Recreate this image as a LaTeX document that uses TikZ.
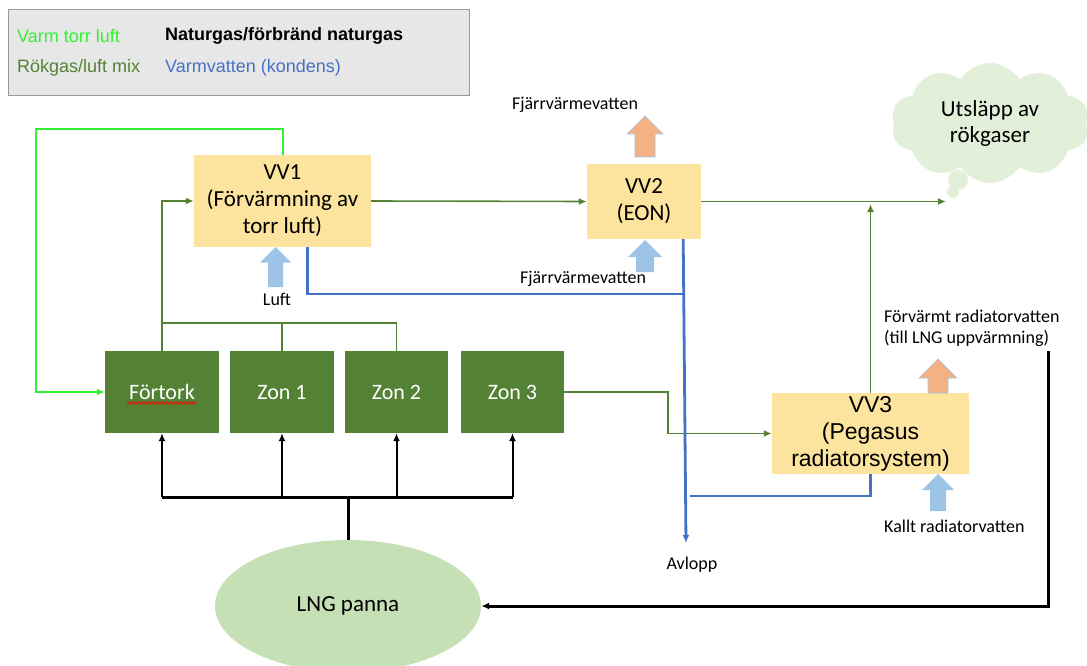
\documentclass[tikz,border=0pt]{standalone}
\usepackage{fontspec}
\setmainfont{Carlito}
\newfontfamily\arialfont{Liberation Sans}
\usetikzlibrary{calc,arrows.meta,shapes.geometric,shapes.symbols,decorations.pathmorphing}
\definecolor{ljusgron}{RGB}{51,240,51}
\definecolor{rokgron}{RGB}{84,130,53}
\definecolor{vattenbla}{RGB}{68,114,196}
\definecolor{vvgul}{RGB}{252,227,158}
\definecolor{pilorange}{RGB}{244,177,131}
\definecolor{pilbla}{RGB}{157,195,230}
\definecolor{molngron}{RGB}{226,240,217}
\definecolor{pannagron}{RGB}{197,224,180}
\definecolor{legendgra}{RGB}{231,231,231}
% block arrow pointing up: style, x, y tip, y tail, head width, shaft width
\newcommand{\blockpil}[6]{\path[#1] (#2-#6/2,#4) -- (#2-#6/2,#3+#5/2) -- (#2-#5/2,#3+#5/2) -- (#2,#3) -- (#2+#5/2,#3+#5/2) -- (#2+#6/2,#3+#5/2) -- (#2+#6/2,#4) -- cycle;}

\tikzset{
  vvbox/.style={fill=vvgul, align=center, inner sep=0pt, font=\fontsize{23}{27}\selectfont},
  zonbox/.style={fill=rokgron, text=white, minimum height=82pt, inner sep=0pt, font=\fontsize{22}{25}\selectfont},
  etikett/.style={inner sep=0pt, font=\fontsize{18}{21}\selectfont},
  legtext/.style={anchor=west, inner sep=0pt, font=\arialfont\fontsize{18}{20}\selectfont},
  pil/.style={-{Latex[length=8pt,width=7pt]}},
  varmluft/.style={draw=ljusgron, line width=2pt},
  rokgas/.style={draw=rokgron, line width=1.6pt},
  vatten/.style={draw=vattenbla, line width=2.8pt},
  naturgas/.style={draw=black, line width=3pt},
}

\begin{document}
\begin{tikzpicture}[x=1pt,y=-1pt]
  \def\busy{497}
  \def\manify{323}
  \def\varmy{129}
  \def\varmx{36}
  \useasboundingbox (0,0) rectangle (1087,666);

  %%%%% legend %%%%%
  \draw[draw=black!40, fill=legendgra] (8,9) rectangle (469,95);
  \node[legtext, text=ljusgron] (leg1) at (17,36) {Varm torr luft};
  \node[legtext, font=\arialfont\bfseries\fontsize{18}{20}\selectfont] (leg2) at (165,36) {Naturgas/förbränd naturgas};
  \node[legtext, text=rokgron] (leg3) at (17,68) {Rökgas/luft mix};
  \node[legtext, text=vattenbla] (leg4) at (165,68) {Varmvatten (kondens)};

  %%%%% boxes %%%%%
  \node[vvbox, minimum width=177pt, minimum height=92pt] (vv1) at (282.5,201) {VV1\\(Förvärmning av\\torr luft)};
  \node[vvbox, minimum width=114pt, minimum height=75pt] (vv2) at (644,201.5) {VV2\\(EON)};
  \node[vvbox, minimum width=197pt, minimum height=81pt, font=\arialfont\fontsize{23}{27}\selectfont] (vv3) at (870.5,433.5) {VV3\\(Pegasus\\radiatorsystem)};

  \node[zonbox, minimum width=114pt] (fortork) at (162,392) {Förtork};
  \node[zonbox, minimum width=104pt] (zon1) at (282,392) {Zon 1};
  \node[zonbox, minimum width=103pt] (zon2) at (396.5,392) {Zon 2};
  \node[zonbox, minimum width=103pt] (zon3) at (512.5,392) {Zon 3};
  \draw[red, line width=0.8pt, decorate, decoration={snake, amplitude=1.2pt, segment length=3.5pt}]
    ($(fortork.center)+(-35,11)$) -- ($(fortork.center)+(35,11)$);

  \node[ellipse, fill=pannagron, minimum width=266pt, minimum height=132pt, inner sep=0pt, font=\fontsize{23}{27}\selectfont] (lng) at (348,606) {LNG panna};

  \node[cloud, cloud puffs=10, cloud puff arc=115, aspect=1.6, fill=molngron, minimum width=198pt, minimum height=120pt, inner sep=0pt, align=center, font=\fontsize{23}{26}\selectfont] (moln) at (990,123) {Utsläpp av\\rökgaser};
  \fill[molngron] (958,180) circle (10) (953,192) circle (6);

  %%%%% block arrows %%%%%
  \blockpil{fill=pilorange, draw=pilbla, line width=0.6pt}{645}{116}{157}{36}{20}
  \blockpil{fill=pilbla}{645}{240}{272}{34}{18}
  \blockpil{fill=pilbla}{275.5}{247}{287}{31}{15}
  \blockpil{fill=pilorange, draw=pilbla, line width=0.6pt}{938}{359}{393}{38}{20}
  \blockpil{fill=pilbla}{938}{474}{511}{32}{16}

  %%%%% labels %%%%%
  \node[etikett] (lbl1) at (575,105) {Fjärrvärmevatten};
  \node[etikett] (lbl2) at (583,279) {Fjärrvärmevatten};
  \node[etikett] (lbl3) at (277,299) {Luft};
  \node[etikett, anchor=north west, align=left] (lbl4) at (884,310) {Förvärmt radiatorvatten\\(till LNG uppvärmning)};
  \node[etikett, anchor=west] (lbl5) at (884,526) {Kallt radiatorvatten};
  \node[etikett] (lbl6) at (692,565) {Avlopp};

  %%%%% varm torr luft %%%%%
  \draw[varmluft, pil] (vv1.north) |- (\varmx,\varmy) |- (fortork.west);

  %%%%% rokgas %%%%%
  \draw[rokgas] (zon2.north) |- (fortork.north |- 0,\manify);
  \draw[rokgas] (zon1.north) -- (zon1.north |- 0,\manify);
  \draw[rokgas, pil] (fortork.north) |- (vv1.west);
  \draw[rokgas, pil] (vv1.east) -- (vv2.west);
  \coordinate (utslapp) at (946,202);
  \draw[rokgas, pil] (vv2.east) -- (vv2.east -| utslapp);
  \draw[rokgas, pil] (vv3.north) -- (vv3.north |- 0,204);
  \coordinate (knick) at (668,392);
  \draw[rokgas, pil] (zon3.east) -- (knick) |- (vv3.west);

  %%%%% varmvatten %%%%%
  \coordinate (avlopp) at (686,543);
  \draw[vatten, pil] ($(vv2.south east)+(-18,0)$) -- (avlopp);
  \draw[vatten] ($(vv1.south)+(25,0)$) |- (684,294);
  \draw[vatten] (vv3.south) |- (690,496);

  %%%%% naturgas %%%%%
  \draw[naturgas] (fortork.south |- 0,\busy) -- (zon3.south |- 0,\busy);
  \draw[naturgas] (lng.north) -- (lng.north |- 0,\busy);
  \foreach \z in {fortork,zon1,zon2,zon3}
    \draw[naturgas, line width=2pt, pil] (\z.south |- 0,\busy) -- (\z.south);
  \coordinate (retur) at (1048,351);
  \draw[naturgas, pil] (retur) |- (lng.east);
\end{tikzpicture}
\end{document}
